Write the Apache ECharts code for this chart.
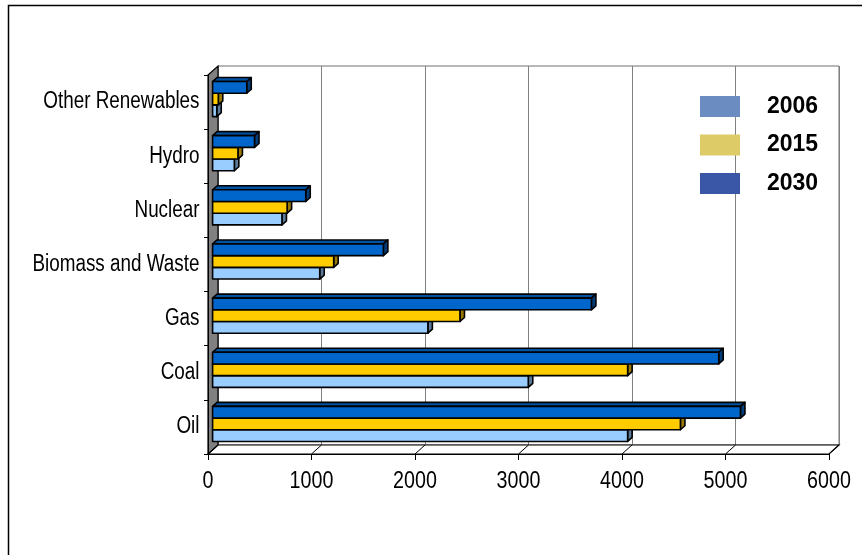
<!DOCTYPE html>
<html>
<head>
<meta charset="utf-8">
<script src="https://cdn.jsdelivr.net/npm/echarts@6/dist/echarts.min.js"></script>
<style>
html,body{margin:0;padding:0;background:#fff;}
#c{width:862px;height:555px;}
</style>
</head>
<body>
<div id="c"></div>
<script>
// ---- data ----
const categories = ['Oil', 'Coal', 'Gas', 'Biomass and Waste', 'Nuclear', 'Hydro', 'Other Renewables'];
const years = ['2006', '2015', '2030'];
const values2006 = [4010, 3050, 2080, 1035, 670, 210, 40];
const values2015 = [4520, 4010, 2390, 1170, 720, 245, 55];
const values2030 = [5100, 4890, 3660, 1650, 900, 405, 330];
const xTicks = [0, 1000, 2000, 3000, 4000, 5000, 6000];

// ---- style ----
const SANS = "'Liberation Sans',Arial,sans-serif";
const NARROW_SCALE = 0.82;
const frontCols = ['#99ccff', '#ffcc00', '#0066cc'];
const topCols = ['#7aa3cc', '#cca300', '#0052a3'];
const sideCols = ['#5c7a99', '#997a00', '#003d7a'];
const legendCols = ['#6b8cc0', '#dccb67', '#3a56a6'];
const seriesVals = [values2006, values2015, values2030];

const W = 621, H = 379;
const FRONT = {left: 208, top: 75};
const BACK = {left: 218, top: 66};
const BARS = {left: 212.6, top: 72};
const DX = 4.5, DY = 4;

const chart = echarts.init(document.getElementById('c'), null, {renderer: 'canvas'});

function makeRender(si) {
  return function (params, api) {
    const cat = api.value(1);
    const val = api.value(0);
    const p0 = api.coord([0, cat]);
    const p1 = api.coord([val, cat]);
    const band = api.size([0, 1])[1];
    const bh = band * 0.216;
    const slot = 2 - si;
    const x = p0[0];
    const w = p1[0] - p0[0];
    const y = p0[1] - 1.5 * bh + slot * bh;
    const stroke = {stroke: '#000', lineWidth: 1.6, lineJoin: 'round'};
    return {
      type: 'group',
      children: [
        {type: 'polygon', shape: {points: [[x, y], [x + DX, y - DY], [x + w + DX, y - DY], [x + w, y]]},
          style: Object.assign({fill: topCols[si]}, stroke)},
        {type: 'polygon', shape: {points: [[x + w, y], [x + w + DX, y - DY], [x + w + DX, y + bh - DY], [x + w, y + bh]]},
          style: Object.assign({fill: sideCols[si]}, stroke)},
        {type: 'rect', shape: {x: x, y: y, width: w, height: bh},
          style: Object.assign({fill: frontCols[si]}, stroke)}
      ]
    };
  };
}

const series = years.map(function (yr, si) {
  return {
    name: yr,
    type: 'custom',
    xAxisIndex: 2,
    yAxisIndex: 2,
    z: 5,
    renderItem: makeRender(si),
    encode: {x: 0, y: 1},
    itemStyle: {color: legendCols[si]},
    data: seriesVals[si].map(function (v, i) { return [v, i]; })
  };
});

const option = {
  animation: false,
  backgroundColor: '#fff',
  grid: [
    {left: BACK.left, top: BACK.top, width: W, height: H, show: true, borderColor: '#707070', borderWidth: 1, backgroundColor: '#fff', z: 0},
    {left: FRONT.left, top: FRONT.top, width: W, height: H, show: false},
    {left: BARS.left, top: BARS.top, width: W, height: H, show: false}
  ],
  xAxis: [
    {gridIndex: 0, type: 'value', min: 0, max: 6000, interval: 1000,
      axisLine: {show: false}, axisTick: {show: false}, axisLabel: {show: false},
      splitLine: {show: true, lineStyle: {color: '#808080', width: 1}}},
    {gridIndex: 1, type: 'value', min: 0, max: 6000, interval: 1000, z: 8,
      axisLine: {show: true, lineStyle: {color: '#000', width: 1}},
      axisTick: {show: true, length: 6, lineStyle: {color: '#000'}},
      axisLabel: {show: false},
      splitLine: {show: false}},
    {gridIndex: 2, type: 'value', min: 0, max: 6000, interval: 1000, show: false, splitLine: {show: false}}
  ],
  yAxis: [
    {gridIndex: 0, type: 'category', data: categories, show: false},
    {gridIndex: 1, type: 'category', data: categories, z: 8,
      axisLine: {show: true, lineStyle: {color: '#000', width: 1}},
      axisTick: {show: true, length: 4, lineStyle: {color: '#000'}},
      axisLabel: {show: false},
      splitLine: {show: false}},
    {gridIndex: 2, type: 'category', data: categories, show: false}
  ],
  legend: {
    orient: 'vertical',
    left: 700,
    top: 95,
    padding: 0,
    itemWidth: 40,
    itemHeight: 21,
    itemGap: 15.5,
    icon: 'rect',
    selectedMode: false,
    textStyle: {color: '#000', fontFamily: SANS, fontWeight: 'bold', fontSize: 23, padding: [0, 0, 0, 22]},
    data: years.map(function (yr, si) { return {name: yr, itemStyle: {color: legendCols[si]}}; })
  },
  series: series
};
chart.setOption(option);

// walls, floor and narrow tick labels placed with the axes' own pixel mapping
function fx(v) { return chart.convertToPixel({xAxisIndex: 1}, v); }
function bx(v) { return chart.convertToPixel({xAxisIndex: 0}, v); }
function fy(i) { return chart.convertToPixel({yAxisIndex: 1}, i); }
const fBottom = FRONT.top + H, bBottom = BACK.top + H;
const graphics = [
  {type: 'rect', z: -10, silent: true, shape: {x: 8.5, y: 5.5, width: 900, height: 700},
    style: {fill: 'none', stroke: '#000', lineWidth: 1.5}},
  {type: 'polygon', z: 3, silent: true,
    shape: {points: [[fx(0), fBottom], [fx(6000), fBottom], [bx(6000), bBottom], [bx(0), bBottom]]},
    style: {fill: '#fff', stroke: '#000', lineWidth: 1.2}},
  {type: 'polygon', z: 3, silent: true,
    shape: {points: [[fx(0), FRONT.top], [bx(0), BACK.top], [bx(0), bBottom], [fx(0), fBottom]]},
    style: {fill: '#808080', stroke: '#000', lineWidth: 1.2}}
];
xTicks.forEach(function (v) {
  graphics.push({type: 'line', z: 3, silent: true,
    shape: {x1: fx(v), y1: fBottom, x2: bx(v), y2: bBottom},
    style: {stroke: '#000', lineWidth: 1}});
  graphics.push({type: 'text', z: 9, silent: true, x: fx(v), y: 481, scaleX: NARROW_SCALE,
    style: {text: String(v), x: 0, y: 0, align: 'center', verticalAlign: 'middle',
      fill: '#000', font: '24px ' + SANS}});
});
categories.forEach(function (c, i) {
  graphics.push({type: 'text', z: 9, silent: true, x: 199.5, y: fy(i), scaleX: NARROW_SCALE,
    style: {text: c, x: 0, y: 0, align: 'right', verticalAlign: 'middle',
      fill: '#000', font: '23px ' + SANS}});
});
chart.setOption({graphic: graphics});
</script>
</body>
</html>
